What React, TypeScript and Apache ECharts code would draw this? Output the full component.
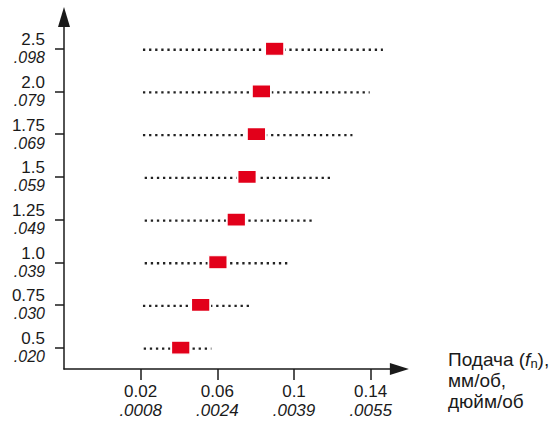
import React, { useEffect, useRef } from "react";
import * as echarts from "echarts";

// Feed (mm/rev) categories, bottom to top, with inch equivalents
const feedMm = ["0.5", "0.75", "1.0", "1.25", "1.5", "1.75", "2.0", "2.5"];
const feedInch = [".020", ".030", ".039", ".049", ".059", ".069", ".079", ".098"];

// Range of the dotted line for each row (x axis value)
const rangeLow = [0.0216, 0.0212, 0.0221, 0.0221, 0.0221, 0.0212, 0.0212, 0.0212];
const rangeHigh = [0.0569, 0.0772, 0.0972, 0.1094, 0.1191, 0.1305, 0.1395, 0.1464];
// Recommended value (red marker)
const markValue = [0.0409, 0.0513, 0.0603, 0.0699, 0.0755, 0.0804, 0.083, 0.0899];

// X axis tick labels
const xTicks = [0.02, 0.06, 0.1, 0.14];
const xTickMm = ["0.02", "0.06", "0.1", "0.14"];
const xTickInch = [".0008", ".0024", ".0039", ".0055"];

const FONT = "'Liberation Sans', Arial, Helvetica, sans-serif";
const INK = "#1a1a1a";

export default function App() {
  const ref = useRef<HTMLDivElement>(null);

  useEffect(() => {
    if (!ref.current) return;
    const chart = echarts.init(ref.current, null, { renderer: "svg" });

    const rangeData = feedMm.map((_, i) => [rangeLow[i], rangeHigh[i], i]);
    const markData = feedMm.map((_, i) => [markValue[i], i]);

    const option: any = {
      animation: false,
      backgroundColor: "#ffffff",
      grid: {
        left: 64,
        top: 27.4,
        width: 335.4,
        height: 341.6,
        containLabel: false,
        outerBoundsMode: "none",
      },
      xAxis: {
        type: "value",
        min: -0.02,
        max: 0.155,
        splitLine: { show: false },
        axisLine: {
          show: true,
          onZero: false,
          symbol: ["none", "triangle"],
          symbolSize: [12, 19],
          lineStyle: { color: INK, width: 1.5 },
        },
        axisTick: {
          show: true,
          customValues: xTicks,
          length: 11,
          lineStyle: { color: INK, width: 1.5 },
        },
        axisLabel: {
          customValues: xTicks,
          margin: 13,
          formatter: (v: number) => {
            let idx = -1;
            xTicks.forEach((t, i) => {
              if (Math.abs(t - v) < 1e-9) idx = i;
            });
            if (idx < 0) return "";
            return `{a|${xTickMm[idx]}}\n{b|${xTickInch[idx]}}`;
          },
          rich: {
            a: { fontFamily: FONT, fontSize: 17, color: INK, lineHeight: 19 },
            b: { fontFamily: FONT, fontSize: 17, fontStyle: "italic", color: INK, lineHeight: 19 },
          },
        },
      },
      yAxis: {
        type: "category",
        data: feedMm,
        boundaryGap: true,
        splitLine: { show: false },
        axisLine: {
          show: true,
          onZero: false,
          symbol: ["none", "triangle"],
          symbolSize: [12, 20],
          symbolOffset: [0, 10.5],
          lineStyle: { color: INK, width: 1.5 },
        },
        axisTick: {
          show: true,
          alignWithLabel: true,
          length: 9,
          lineStyle: { color: INK, width: 1.5 },
        },
        axisLabel: {
          margin: 19,
          align: "right",
          formatter: (v: string, i: number) => `{a|${v}}\n{b|${feedInch[i]}}`,
          rich: {
            a: { fontFamily: FONT, fontSize: 17, color: INK, lineHeight: 18, align: "right" },
            b: { fontFamily: FONT, fontSize: 16, fontStyle: "italic", color: INK, lineHeight: 18, align: "right" },
          },
        },
      },
      series: [
        {
          type: "custom",
          data: rangeData,
          encode: { x: [0, 1], y: 2 },
          renderItem: (params: any, api: any) => {
            const y = api.value(2);
            const p1 = api.coord([api.value(0), y]);
            const p2 = api.coord([api.value(1), y]);
            return {
              type: "line",
              shape: { x1: p1[0], y1: p1[1] + 1, x2: p2[0], y2: p2[1] + 1 },
              style: {
                stroke: "#222222",
                lineWidth: 2.3,
                lineDash: [2.3, 3.8],
                lineCap: "butt",
              },
            };
          },
          z: 2,
        },
        {
          type: "scatter",
          data: markData,
          symbol: "rect",
          symbolSize: [19, 13],
          itemStyle: {
            color: "#E2001A",
            borderColor: "#ffffff",
            borderWidth: 1.5,
            opacity: 1,
          },
          z: 5,
        },
      ],
      graphic: [
        {
          type: "text",
          left: 448,
          top: 349,
          style: {
            text: "{t|Подача (}{i|f}{s|n}{t|),}\n{t|мм/об,}\n{t|дюйм/об}",
            rich: {
              t: { fontFamily: FONT, fontSize: 19, fill: INK, lineHeight: 21 },
              i: { fontFamily: FONT, fontSize: 19, fontStyle: "italic", fill: INK, lineHeight: 21 },
              s: { fontFamily: FONT, fontSize: 13, fill: INK, lineHeight: 21, padding: [8, 0, 0, 0] },
            },
          },
        },
      ],
    };

    chart.setOption(option);
    return () => chart.dispose();
  }, []);

  return (
    <div
      ref={ref}
      style={{ position: "fixed", left: 0, top: 0, width: 558, height: 421 }}
    />
  );
}
